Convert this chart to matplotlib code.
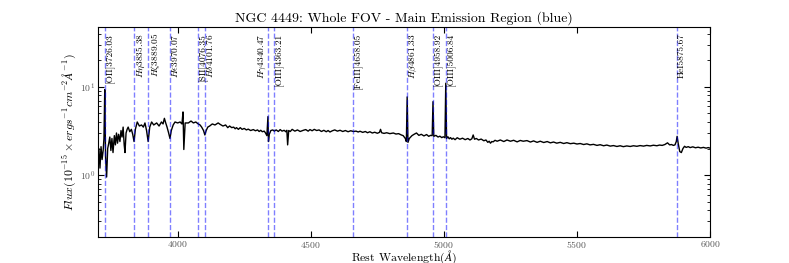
"""NGC 4449 spectrum, whole FOV, main emission region (blue arm)."""

import matplotlib
matplotlib.use("Agg")
import matplotlib.pyplot as plt

plt.rcParams["font.family"] = "serif"
plt.rcParams["font.serif"] = ["cmr10", "DejaVu Serif"]
plt.rcParams["mathtext.fontset"] = "cm"
plt.rcParams["axes.formatter.use_mathtext"] = True

# spectrum (Angstrom, 1e-15 erg/s/cm2/A)
wave = (
    [3700, 3704, 3708, 3712, 3716, 3720, 3723, 3726, 3729, 3733, 3737, 3741]
    + [3745, 3749, 3753, 3757, 3762, 3766, 3770, 3774, 3778, 3783, 3787, 3791, 3795, 3799]
    + [3802, 3806, 3810, 3814, 3820, 3826, 3831, 3836, 3841, 3848, 3856, 3864, 3871, 3877]
    + [3883, 3889, 3895, 3902, 3910, 3921, 3930, 3939, 3945, 3950, 3955, 3960, 3966]
    + [3971, 3976, 3983, 3990, 4000, 4009, 4016, 4020, 4023, 4028, 4040, 4050, 4059]
    + [4068, 4077, 4084, 4090, 4097, 4102, 4107, 4113, 4120, 4130, 4140, 4152, 4160, 4170, 4180]
    + [4188, 4195, 4203, 4210, 4216, 4221, 4228, 4235, 4242, 4250,
       4258, 4265, 4274, 4284, 4292, 4300, 4306, 4312, 4318, 4325,
       4330, 4335, 4339, 4341, 4344, 4350, 4357]
    + [4363, 4370, 4378, 4385, 4392, 4400, 4406, 4410, 4413, 4417,
       4423, 4430, 4440, 4450, 4460, 4472, 4481]
    + [4490, 4497, 4505, 4513, 4522, 4531, 4540, 4549, 4558, 4565,
       4572, 4581, 4590, 4600, 4610, 4620, 4630, 4640, 4650, 4660,
       4670, 4678, 4685, 4695]
    + [4705, 4713, 4722, 4731, 4740, 4750, 4758, 4762, 4766, 4775,
       4785, 4797, 4810, 4820, 4830, 4840, 4847, 4855, 4859, 4862,
       4865, 4870, 4880, 4888]
    + [4897, 4906, 4915, 4925, 4935, 4943, 4950, 4956, 4959, 4962,
       4970, 4978, 4985, 4992, 4998, 5004, 5007, 5010, 5015, 5020,
       5025, 5030, 5035, 5042]
    + [5050, 5060, 5070, 5080, 5090, 5098, 5105, 5110, 5115, 5122,
       5130, 5140, 5150, 5158, 5165, 5170, 5175, 5180, 5185, 5192,
       5200, 5212]
    + [5225, 5237, 5250, 5262, 5275, 5287, 5298, 5312, 5325, 5337,
       5350, 5362, 5375, 5388, 5400, 5412, 5424, 5437, 5450, 5462,
       5475, 5488, 5500, 5512]
    + [5525, 5537, 5549, 5562, 5575, 5587, 5600, 5612, 5625, 5637,
       5650, 5662, 5674, 5687, 5700, 5712, 5725, 5737, 5750, 5762,
       5775, 5787, 5800, 5810]
    + [5820, 5830, 5840, 5848, 5855, 5862, 5868, 5873, 5876, 5880,
       5886, 5892, 5898, 5904, 5910, 5918, 5925, 5935, 5945, 5955,
       5965, 5975, 5985, 5993, 6000]
)
flux = (
    [1.4, 2.0, 1.2, 2.1, 1.5, 1.9, 2.6, 9.3, 1.6, 0.95, 2.0, 2.3]
    + [2.7, 1.9, 2.6, 1.8, 2.8, 2.2, 3.0, 2.3, 2.9, 2.4, 3.2, 2.7, 3.5, 2.2]
    + [1.8, 3.0, 3.3, 3.5, 3.1, 3.3, 2.9, 2.4, 3.3, 4.0, 3.6, 3.7, 3.5, 3.9]
    + [3.2, 2.4, 3.5, 4.0, 3.7, 3.9, 3.6, 4.0, 3.8, 4.4, 3.9, 3.5, 3.0]
    + [2.6, 3.2, 3.7, 4.0, 3.9, 4.0, 3.8, 5.2, 1.95, 3.9, 3.9, 4.1, 3.9]
    + [4.0, 3.8, 3.7, 3.5, 3.2, 2.85, 3.2, 3.5, 3.6, 3.8, 3.7, 3.9, 3.75, 3.6, 3.7]
    + [3.45, 3.6, 3.45, 3.5, 3.35, 3.45, 3.3, 3.45, 3.3, 3.38,
       3.25, 3.32, 3.2, 3.28, 3.18, 3.25, 3.12, 3.22, 3.1, 3.15,
       3.0, 2.8, 4.6, 2.4, 2.9, 3.2, 3.25]
    + [3.15, 3.25, 3.12, 3.28, 3.15, 3.22, 3.1, 3.22, 2.2, 3.2,
       3.12, 3.3, 3.15, 3.25, 3.12, 3.22, 3.28]
    + [3.15, 3.28, 3.18, 3.3, 3.2, 3.25, 3.12, 3.22, 3.1, 3.2,
       3.08, 3.18, 3.25, 3.15, 3.22, 3.12, 3.2, 3.1, 3.18, 3.12,
       3.15, 3.08, 3.14, 3.05]
    + [3.12, 3.02, 3.1, 3.0, 3.06, 2.98, 3.05, 3.3, 3.02, 2.97,
       3.02, 2.95, 3.0, 2.92, 2.95, 2.85, 2.8, 2.6, 2.4, 7.7,
       2.35, 2.6, 2.8, 2.9]
    + [3.0, 2.82, 2.9, 2.78, 2.88, 2.75, 2.82, 2.8, 6.8, 2.75,
       2.82, 2.7, 2.76, 2.66, 2.72, 2.65, 11.0, 2.6, 2.72, 2.58,
       2.66, 2.55, 2.62, 2.52]
    + [2.65, 2.55, 2.62, 2.52, 2.6, 2.5, 2.58, 2.85, 2.55, 2.6,
       2.5, 2.56, 2.45, 2.5, 2.35, 2.42, 2.3, 2.4, 2.38, 2.48,
       2.42, 2.5]
    + [2.4, 2.5, 2.42, 2.48, 2.38, 2.47, 2.42, 2.46, 2.37, 2.44,
       2.35, 2.42, 2.34, 2.4, 2.32, 2.37, 2.3, 2.35, 2.28, 2.33,
       2.27, 2.3, 2.25, 2.28]
    + [2.22, 2.26, 2.2, 2.23, 2.17, 2.21, 2.15, 2.19, 2.13, 2.16,
       2.11, 2.15, 2.1, 2.14, 2.11, 2.15, 2.12, 2.16, 2.13, 2.17,
       2.14, 2.18, 2.15, 2.19]
    + [2.17, 2.22, 2.32, 2.2, 2.22, 2.17, 2.2, 2.4, 2.75, 2.3,
       1.85, 1.8, 2.0, 2.12, 2.06, 2.1, 2.05, 2.09, 2.04, 2.07,
       2.03, 2.06, 2.02, 2.05, 2.02]
)

# identified lines
line_wave = [3726.03, 3835.38, 3889.05, 3970.07, 4076.35, 4101.76, 4340.47,
             4363.21, 4658.05, 4861.33, 4958.92, 5006.84, 5875.67]
line_name = ["[OII]", r"$H\eta$", r"$H\zeta$", r"$H\epsilon$", "[SII]", r"$H\delta$",
             r"$H\gamma$", "[OIII]", "[FeIII]", r"$H\beta$", "[OIII]", "[OIII]", "HeI"]


def main():
    n = min(len(wave), len(flux))
    fig = plt.figure(figsize=(7.89, 2.63), dpi=100)
    ax = fig.add_axes([0.124, 0.10, 0.776, 0.798])
    ax.plot(wave[:n], flux[:n], color="k", lw=1)
    ax.set_yscale("log")
    ax.set_xlim(3700, 6000)
    ax.set_ylim(0.2, 48)

    for lw_, name in zip(line_wave, line_name):
        ax.axvline(lw_, color="b", ls="--", lw=1, alpha=0.5)
        left = name == r"$H\gamma$"
        ax.text(lw_ + (-2 if left else 2), 0.97, f"{name}{lw_:.2f}",
                transform=ax.get_xaxis_transform(), rotation=90, fontsize=6.8,
                ha="right" if left else "left", va="top")

    ax.set_xticks([4000, 4500, 5000, 5500, 6000])
    ax.tick_params(which="both", direction="in", top=True, right=True,
                   labelcolor="0.35", labelsize=7, pad=2)
    ax.tick_params(which="major", length=4)
    ax.tick_params(which="minor", length=2)
    ax.set_title("NGC 4449: Whole FOV - Main Emission Region (blue)",
                 fontsize=10, pad=4)
    ax.set_xlabel(r"Rest Wavelength$(\AA)$", fontsize=8.5, labelpad=-1)
    ax.set_ylabel(r"$Flux(10^{-15}\times ergs^{-1}cm^{-2}\AA^{-1})$",
                  fontsize=8.5, labelpad=1)
    fig.savefig("out.png", dpi=100)


if __name__ == "__main__":
    main()
